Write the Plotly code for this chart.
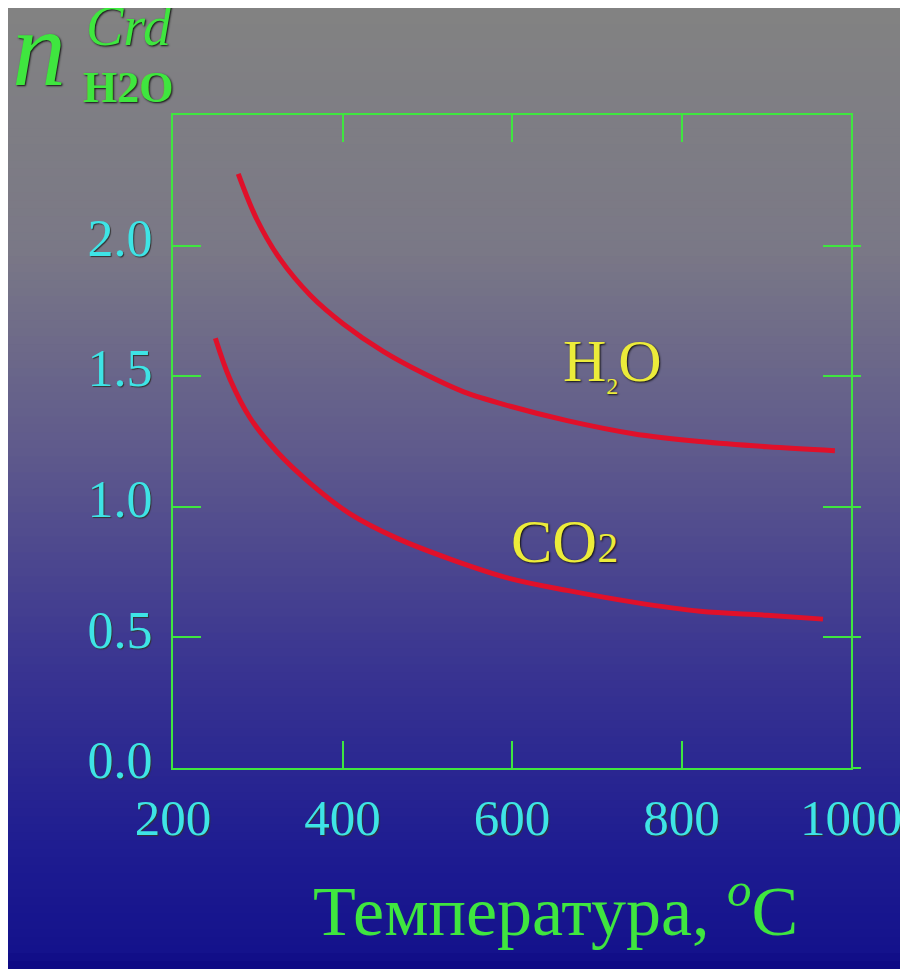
import plotly.graph_objects as go

# ---- data ----
t_h2o = [277, 299, 326, 362, 401, 448, 496, 543, 598, 665, 743, 822, 901, 981]
n_h2o = [2.275, 2.10, 1.95, 1.81, 1.70, 1.595, 1.51, 1.44, 1.385, 1.33, 1.28, 1.25, 1.23, 1.215]

t_co2 = [250, 267, 291, 323, 362, 409, 464, 527, 598, 665, 743, 822, 901, 967]
n_co2 = [1.645, 1.49, 1.34, 1.21, 1.09, 0.973, 0.88, 0.80, 0.725, 0.68, 0.635, 0.60, 0.585, 0.57]

x_ticks = [200, 400, 600, 800, 1000]
x_ticklabels = ["200", "400", "600", "800", "1000"]
y_ticks = [0.0, 0.5, 1.0, 1.5, 2.0]
y_ticklabels = ["0.0", "0.5", "1.0", "1.5", "2.0"]

x_title = "Температура, <sup><i>o</i></sup>C"
label_h2o = "H<sub><span style='font-size:24px'>2</span></sub>O"
label_co2 = "CO<span style='font-size:42px'>2</span>"

# ---- geometry (page pixels; the page body adds an 8px offset) ----
OFF = 8
W, H = 908 - OFF, 969 - OFF
L, R, T, B = 173 - OFF, 851 - OFF, 115 - OFF, 768 - OFF


def px(x):
    return (x - OFF - L) / (R - L)


def py(y):
    return (B - (y - OFF)) / (B - T)


GREEN = "#3fe63f"
CYAN = "#3ee4e6"
YELLOW = "#ecec3a"
RED = "#e0102a"
SERIF = "Liberation Serif, Times New Roman, serif"

fig = go.Figure()
fig.add_trace(go.Scatter(x=t_h2o, y=n_h2o, mode="lines", line=dict(color=RED, width=5, shape="spline"),
                         showlegend=False, hoverinfo="skip"))
fig.add_trace(go.Scatter(x=t_co2, y=n_co2, mode="lines", line=dict(color=RED, width=5, shape="spline"),
                         showlegend=False, hoverinfo="skip"))
# helper trace for the right axis (outside tick marks)
fig.add_trace(go.Scatter(x=[None], y=[None], yaxis="y2", showlegend=False, hoverinfo="skip"))

# ---- gradient background via bands ----
stops = [(8, (130, 130, 130)), (250, (122, 120, 134)), (450, (95, 90, 140)),
         (650, (60, 55, 145)), (850, (30, 28, 145)), (950, (20, 18, 140)), (969, (12, 8, 130))]


def col_at(y):
    for (y0, c0), (y1, c1) in zip(stops[:-1], stops[1:]):
        if y0 <= y <= y1:
            f = (y - y0) / (y1 - y0)
            return tuple(int(round(a + (b - a) * f)) for a, b in zip(c0, c1))
    return stops[-1][1]


shapes = []
y_top, y_bot = 8, 969
nb = 120
step = (y_bot - y_top) / nb
for i in range(nb):
    ya = y_top + i * step
    yb = ya + step + 0.8
    c = col_at(ya + step / 2)
    shapes.append(dict(type="rect", xref="paper", yref="paper", layer="below",
                       x0=px(8), x1=px(910), y0=py(yb), y1=py(ya),
                       fillcolor="rgb(%d,%d,%d)" % c, line=dict(width=0)))

shadow = "1px 1px 2px #101010"
annotations = [
    dict(text=x_title, xref="paper", yref="paper", x=px(555), y=py(906), xanchor="center", yanchor="middle",
         showarrow=False, font=dict(family=SERIF, size=70, color=GREEN)),
    dict(text="<i>n</i>", xref="paper", yref="paper", x=px(10), y=py(48), xanchor="left", yanchor="middle",
         showarrow=False, font=dict(family=SERIF, size=108, color=GREEN, shadow=shadow)),
    dict(text="<i>Crd</i>", xref="paper", yref="paper", x=px(84), y=py(26), xanchor="left", yanchor="middle",
         showarrow=False, font=dict(family=SERIF, size=56, color=GREEN, shadow=shadow)),
    dict(text="<b>H2O</b>", xref="paper", yref="paper", x=px(81), y=py(88), xanchor="left", yanchor="middle",
         showarrow=False, font=dict(family=SERIF, size=44, color=GREEN, shadow=shadow)),
    dict(text=label_h2o, x=718, y=1.55, xanchor="center", yanchor="middle", showarrow=False,
         font=dict(family=SERIF, size=60, color=YELLOW, shadow=shadow)),
    dict(text=label_co2, x=662, y=0.87, xanchor="center", yanchor="middle", showarrow=False,
         font=dict(family=SERIF, size=62, color=YELLOW, shadow=shadow)),
]

fig.update_layout(
    width=W, height=H,
    margin=dict(l=L, r=W - R, t=T, b=H - B, pad=0, autoexpand=False),
    paper_bgcolor="white",
    plot_bgcolor="rgba(0,0,0,0)",
    shapes=shapes,
    annotations=annotations,
    xaxis=dict(range=[200, 1000], tickvals=x_ticks, ticktext=x_ticklabels, ticks="inside", ticklen=27,
               tickwidth=1.5, tickcolor=GREEN, showline=True, linecolor=GREEN, linewidth=2, mirror="ticks",
               showgrid=False, zeroline=False, ticklabelstandoff=4, automargin=False,
               tickfont=dict(family=SERIF, size=51, color=CYAN, shadow="1px 1px 1px #333")),
    yaxis=dict(range=[0, 2.5], tickvals=y_ticks, ticktext=y_ticklabels, ticks="inside", ticklen=28,
               tickwidth=1.5, tickcolor=GREEN, showline=True, linecolor=GREEN, linewidth=2, mirror="ticks",
               showgrid=False, zeroline=False, ticklabelstandoff=8, ticklabelshift=-8, automargin=False,
               tickfont=dict(family=SERIF, size=52, color=CYAN, shadow="1px 1px 1px #333")),
    yaxis2=dict(range=[0, 2.5], overlaying="y", side="right", tickvals=y_ticks, showticklabels=False,
                ticks="outside", ticklen=9, tickwidth=1.5, tickcolor=GREEN, showline=False,
                showgrid=False, zeroline=False, automargin=False),
)

fig.write_html("out.html")
